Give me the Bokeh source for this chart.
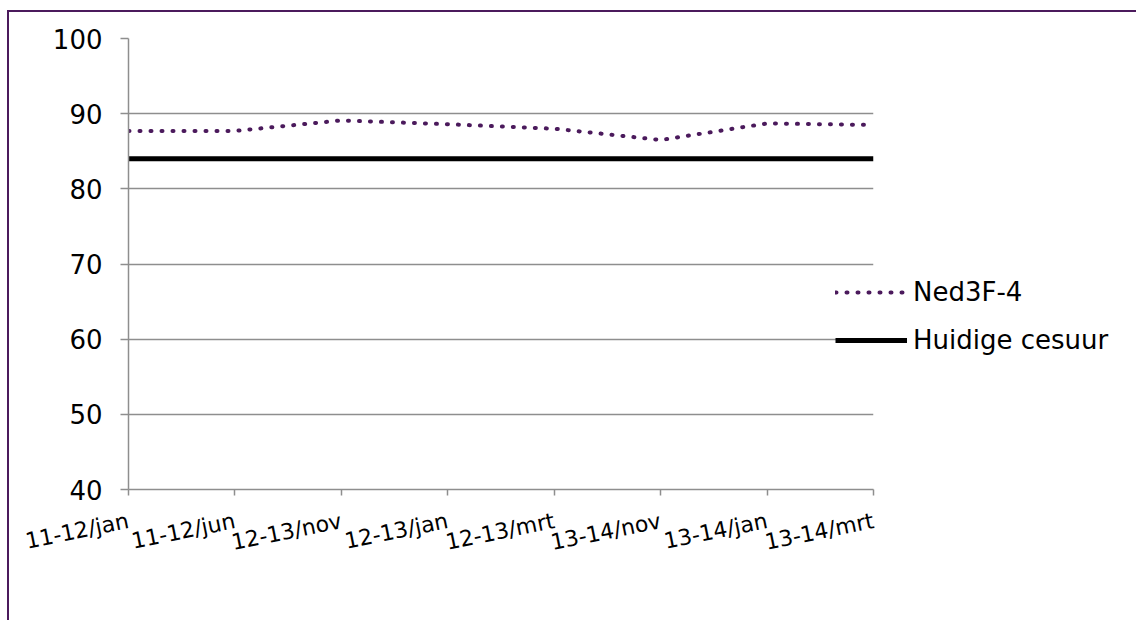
from bokeh.plotting import figure
from bokeh.models import Range1d, FixedTicker, Legend, LegendItem, ColumnDataSource
from bokeh.embed import file_html
from bokeh.resources import INLINE

categories = ["11-12/jan", "11-12/jun", "12-13/nov", "12-13/jan",
              "12-13/mrt", "13-14/nov", "13-14/jan", "13-14/mrt"]
ned3f4 = [87.7, 87.7, 89.1, 88.6, 88.0, 86.5, 88.7, 88.5]
cesuur = [84, 84, 84, 84, 84, 84, 84, 84]
y_ticks = [40, 50, 60, 70, 80, 90, 100]

PURPLE = "#4B1A5C"
GRID = "#8E8E8E"
FONT = "DejaVu Sans"

xs = list(range(len(categories)))
src = ColumnDataSource(dict(x=xs, ned=ned3f4, ces=cesuur))

p = figure(frame_width=745, frame_height=451, output_backend="svg", toolbar_location=None,
           x_range=Range1d(0, len(categories) - 1), y_range=Range1d(40, 100),
           min_border_left=119, min_border_right=253, min_border_top=26, min_border_bottom=131)
p.styles = {"border-top": f"2px solid {PURPLE}", "border-left": f"2px solid {PURPLE}",
            "margin-left": "7px", "margin-top": "10px"}
p.outline_line_color = None
p.background_fill_color = "white"
p.border_fill_color = "white"

p.xgrid.visible = False
p.ygrid.ticker = FixedTicker(ticks=y_ticks)
p.ygrid.grid_line_color = GRID
p.ygrid.grid_line_width = 1.5

p.yaxis.ticker = FixedTicker(ticks=y_ticks)
p.yaxis.axis_line_color = GRID
p.yaxis.axis_line_width = 1.5
p.yaxis.major_tick_line_color = GRID
p.yaxis.major_tick_line_width = 1.5
p.yaxis.major_tick_out = 8
p.yaxis.major_tick_in = 0
p.yaxis.minor_tick_line_color = None
p.yaxis.major_label_text_font = FONT
p.yaxis.major_label_text_font_size = "26px"
p.yaxis.major_label_text_color = "black"
p.yaxis.major_label_standoff = 18

p.xaxis.ticker = FixedTicker(ticks=xs)
p.xaxis.major_label_overrides = {i: c for i, c in enumerate(categories)}
p.xaxis.axis_line_color = GRID
p.xaxis.axis_line_width = 1.5
p.xaxis.major_tick_line_color = GRID
p.xaxis.major_tick_line_width = 1.5
p.xaxis.major_tick_out = 6
p.xaxis.major_tick_in = 0
p.xaxis.minor_tick_line_color = None
p.xaxis.major_label_text_font = FONT
p.xaxis.major_label_text_font_size = "22px"
p.xaxis.major_label_text_color = "black"
p.xaxis.major_label_orientation = 0.2
p.xaxis.major_label_standoff = 25

r_ces = p.line("x", "ces", source=src, line_color="black", line_width=5)
r_ned = p.line("x", "ned", source=src, line_color=PURPLE, line_width=4,
               line_dash="1 10", line_cap="round")

legend = Legend(items=[LegendItem(label="Ned3F-4", renderers=[r_ned]),
                       LegendItem(label="Huidige cesuur", renderers=[r_ces])],
                location=(-38, 134), orientation="vertical",
                background_fill_alpha=0, border_line_color=None,
                padding=0, margin=0, spacing=18,
                glyph_width=72, glyph_height=24, label_height=24,
                label_standoff=6,
                label_text_font=FONT, label_text_font_size="26px",
                label_text_color="black")
p.add_layout(legend, "right")

open("out.html", "w").write(file_html(p, INLINE))
